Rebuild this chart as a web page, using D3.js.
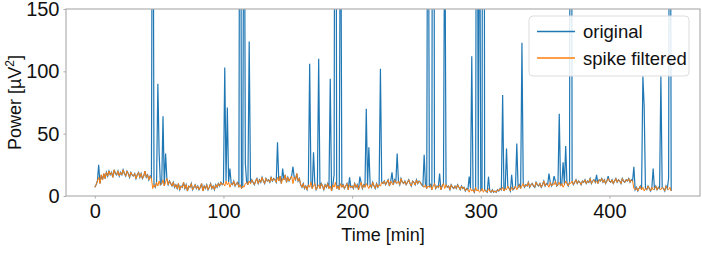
<!DOCTYPE html>
<html>
<head>
<meta charset="utf-8">
<script src="https://cdn.jsdelivr.net/npm/d3@7"></script>
<style>
  body { margin: 0; background: #fff; }
  svg { font-family: "Liberation Sans", Arial, Helvetica, sans-serif; }
</style>
</head>
<body>
<svg id="chart" width="702" height="254"></svg>
<script>
// spike filtered power, one value per minute (t = 0..448)
var filtered = [
  7,9,12,15,10,17,13,18,14,19,16,20,17,19,15,21,18,17,20,16,
  19,17,21,18,16,20,18,15,19,17,16,18,14,17,19,15,18,14,16,20,
  15,17,13,16,14,6,9,7,11,8,12,9,10,13,8,11,14,9,12,10,
  8,11,7,9,6,10,5,8,7,11,6,9,4,8,7,10,5,7,9,6,
  8,5,7,10,4,8,6,9,5,7,10,6,8,5,9,7,10,8,11,9,
  10,8,12,9,11,7,10,9,12,8,10,11,7,9,6,8,7,10,11,9,
  12,10,13,11,9,12,14,10,13,11,15,12,10,14,12,13,11,15,12,14,
  13,11,15,12,16,10,14,13,17,11,15,12,14,16,10,15,13,18,12,14,
  9,7,10,6,8,5,9,7,11,6,8,10,5,7,9,6,10,8,5,9,
  7,10,6,8,4,9,7,11,6,8,5,10,7,9,6,8,10,5,9,7,
  8,6,10,7,9,5,8,11,6,9,7,10,8,6,9,7,11,8,6,10,
  7,9,8,11,10,12,9,11,13,8,12,10,9,13,11,10,12,9,14,11,
  10,12,9,11,13,10,8,12,11,9,13,10,12,11,9,8,7,9,6,8,
  7,9,5,8,10,6,8,7,9,5,8,10,6,9,7,8,5,9,7,6,
  8,6,9,7,5,8,6,7,4,6,5,3,6,4,5,3,7,4,5,3,
  4,6,3,5,4,3,6,4,3,5,3,4,3,5,4,6,5,7,4,6,
  5,8,6,4,7,5,6,8,5,7,9,6,8,10,7,9,8,11,7,9,
  10,8,7,11,9,8,10,7,9,12,8,10,9,7,11,8,10,9,12,8,
  9,11,8,10,7,9,12,10,8,11,10,12,9,11,13,10,12,11,9,12,
  11,13,10,12,11,14,10,12,13,11,12,10,13,12,14,11,13,10,12,14,
  12,11,13,10,12,14,11,13,12,10,14,12,11,13,12,14,11,13,12,6,
  5,7,4,6,8,5,7,4,6,5,8,6,4,7,5,6,8,5,7,6,
  5,7,6,4,8,6,5,7,4
]

// spikes in the original signal: [minute, power]
var spikes = [
  [3,25],[45,400],[49,90],[50,34],[53,64],[55,34],
  [101,103],[103,71],[105,22],[113,500],[116,350],[117,26],[120,124],
  [142,43],[146,22],[154,23.5],[167,106],[170,35],[174,110],[183,94],
  [186,17],[187,600],[191,300],[198,15],[206,15.5],[211,70],[213,39],[222,102],
  [231,19],[235,34],[256,33],[259,400],[263,800],[268,18],[272,250],
  [291,15.5],[293,112],[297,500],[299,300],[302,900],[306,15.5],
  [317,81],[320,38],[324,17],[328,42],[332,123],[353,18],[357,16],
  [361,66],[364,27],[366,40],[370,700],
  [390,17],[399,16],[419,23.5],[426,96],[427,72],[434,22],[440,96],
  [446,14],[447,500]
]

var yTicks = [0, 50, 100, 150]
var xTicks = [0, 100, 200, 300, 400]
var seriesNames = ["original", "spike filtered"]
var colors = ["#1f77b4", "#ff7f0e"]

var times = filtered.map(function(d, i){ return i })
var original = filtered.slice()
spikes.forEach(function(s){ original[s[0]] = s[1] })

const margin = {top: 9, right: 2, bottom: 58, left: 66}
const width = 702, height = 254

var svg = d3.select('#chart')

var tmin = d3.min(times), tmax = d3.max(times)
var pad = (tmax - tmin) * 0.05
var x = d3.scaleLinear()
  .domain([tmin - pad, tmax + pad])
  .range([margin.left, width - margin.right])

var y = d3.scaleLinear()
  .domain([0, 150])
  .range([height - margin.bottom, margin.top])

svg.append("defs").append("clipPath").attr("id", "clip")
  .append("rect")
  .attr("x", margin.left).attr("y", margin.top)
  .attr("width", width - margin.left - margin.right)
  .attr("height", height - margin.top - margin.bottom)

var line = d3.line()
  .x(function(d, i){ return x(times[i]) })
  .y(function(d){ return y(d) })

var plot = svg.append("g").attr("clip-path", "url(#clip)")
plot.append("path").datum(original)
  .attr("d", line).attr("fill", "none")
  .attr("stroke", colors[0]).attr("stroke-width", 1.2)
plot.append("path").datum(filtered)
  .attr("d", line).attr("fill", "none")
  .attr("stroke", colors[1]).attr("stroke-width", 1.0)

// axes
var xAxis = svg.append("g")
  .attr("transform", "translate(0," + (height - margin.bottom) + ")")
  .call(d3.axisBottom(x).tickValues(xTicks).tickSize(2.5).tickPadding(5))
xAxis.select(".domain").remove()
xAxis.selectAll("line").attr("stroke", "#aaa")
xAxis.selectAll("text").attr("font-size", 20).attr("fill", "#111")
  .attr("font-family", "Liberation Sans, Arial, sans-serif")

var yAxis = svg.append("g")
  .attr("transform", "translate(" + margin.left + ",0)")
  .call(d3.axisLeft(y).tickValues(yTicks).tickSize(2.5).tickPadding(4))
yAxis.select(".domain").remove()
yAxis.selectAll("line").attr("stroke", "#aaa")
yAxis.selectAll("text").attr("font-size", 20).attr("fill", "#111")
  .attr("font-family", "Liberation Sans, Arial, sans-serif")

// frame
svg.append("rect")
  .attr("x", margin.left).attr("y", margin.top)
  .attr("width", width - margin.left - margin.right)
  .attr("height", height - margin.top - margin.bottom)
  .attr("fill", "none").attr("stroke", "#b0b0b0").attr("stroke-width", 1.2)

svg.append("text")
  .attr("x", (margin.left + width - margin.right) / 2)
  .attr("y", 241)
  .attr("text-anchor", "middle")
  .attr("font-size", 18).attr("fill", "#111")
  .text("Time [min]")

var ylab = svg.append("text")
  .attr("transform", "translate(21," + ((margin.top + height - margin.bottom) / 2) + ") rotate(-90)")
  .attr("text-anchor", "middle")
  .attr("font-size", 18).attr("fill", "#111")
ylab.append("tspan").text("Power [µV")
ylab.append("tspan").attr("font-size", 12).attr("dy", -7).text("2")
ylab.append("tspan").attr("dy", 7).text("]")

// legend
var legend = svg.append("g")
legend.append("rect")
  .attr("x", 529).attr("y", 16).attr("width", 160).attr("height", 60)
  .attr("rx", 4).attr("fill", "#fff").attr("fill-opacity", 0.85)
  .attr("stroke", "#ddd")
seriesNames.forEach(function(name, i){
  var ly = 31.5 + i * 26.5
  legend.append("line")
    .attr("x1", 537).attr("x2", 575).attr("y1", ly).attr("y2", ly)
    .attr("stroke", colors[i]).attr("stroke-width", 1.3)
  legend.append("text")
    .attr("x", 583).attr("y", ly + 6.5)
    .attr("font-size", 18.5).attr("fill", "#111")
    .text(name)
})
</script>
</body>
</html>
